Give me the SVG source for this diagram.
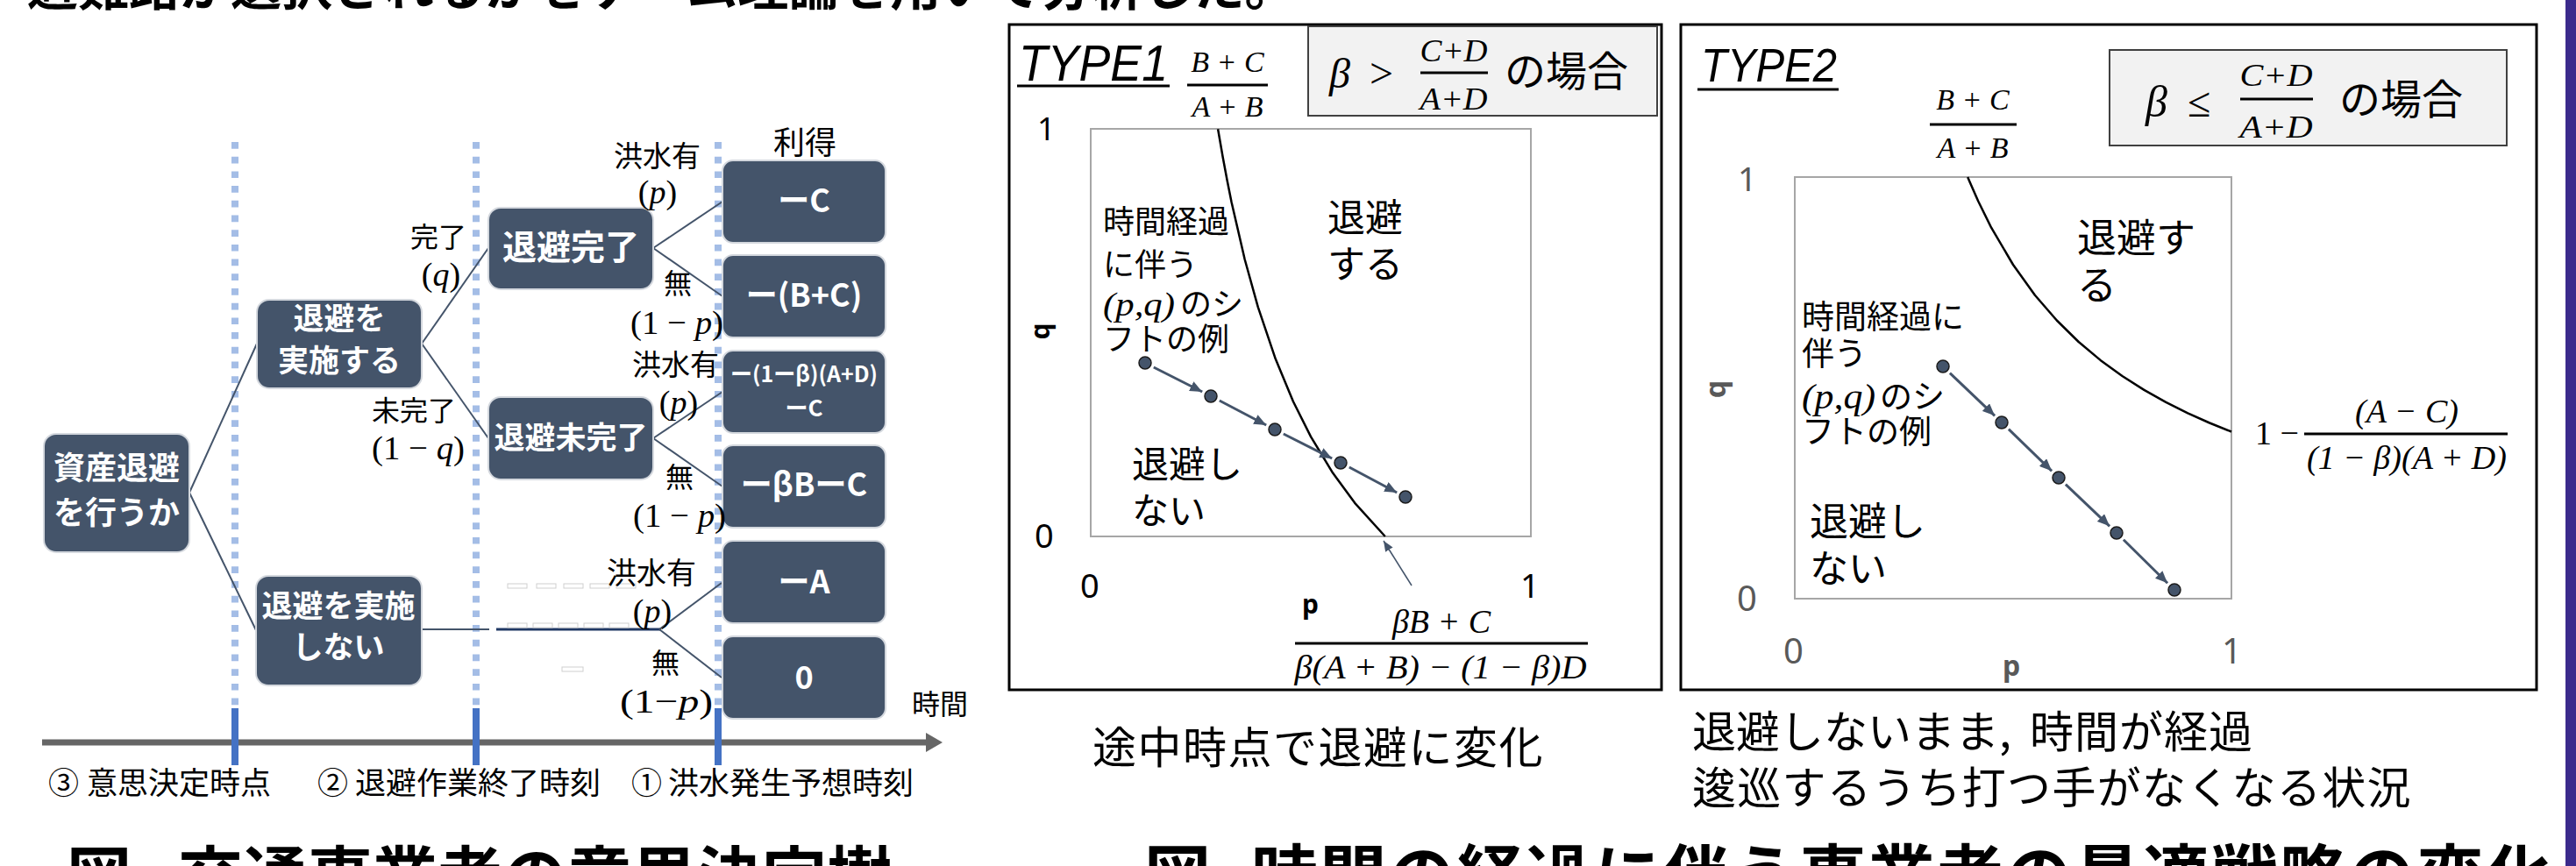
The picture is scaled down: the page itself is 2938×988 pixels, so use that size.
<svg xmlns="http://www.w3.org/2000/svg" width="2938" height="988" viewBox="0 0 2938 988">
<defs>
<style>
.jp{font-family:"Noto Sans CJK JP","Noto Sans CJK SC",sans-serif;fill:#000}
.jpb{font-family:"Noto Sans CJK JP","Noto Sans CJK SC",sans-serif;font-weight:bold}
.box{fill:#44546a;stroke:#d4d8de;stroke-width:2}
.bt{font-family:"Noto Sans CJK JP","Noto Sans CJK SC",sans-serif;font-weight:bold;fill:#fff;text-anchor:middle}
.m{font-family:"Liberation Serif","DejaVu Serif",serif;fill:#000}
.mi{font-family:"Liberation Serif","DejaVu Serif",serif;font-style:italic;fill:#000}
.num{font-family:"Noto Sans","Open Sans",sans-serif}
.con{stroke:#44546a;stroke-width:2;fill:none}
.dot{stroke:#a4bde6;stroke-width:8;stroke-dasharray:7.7 9}
.tick{stroke:#4472c4;stroke-width:8}
.frame{fill:#fff;stroke:#000;stroke-width:3}
.gbox{fill:#f2f2f2;stroke:#404040;stroke-width:2}
.plot{fill:#fff;stroke:#a6a6a6;stroke-width:2}
.curve{fill:none;stroke:#000;stroke-width:2.5;stroke-linejoin:round}
.pt{fill:#44546a;stroke:#1a1a1a;stroke-width:1.5}
.arr{stroke:#44546a;stroke-width:3;fill:none}
.bar{stroke:#000;stroke-width:3}
.art{fill:#fff;stroke:#cfcfcf;stroke-width:1}
</style>
<marker id="ah" markerUnits="userSpaceOnUse" markerWidth="14" markerHeight="12" refX="14" refY="6" orient="auto">
<path d="M0,0 L14,6 L0,12 z" fill="#44546a"/>
</marker>
<marker id="ah2" markerUnits="userSpaceOnUse" markerWidth="12" markerHeight="10" refX="12" refY="5" orient="auto">
<path d="M0,0 L12,5 L0,10 z" fill="#44546a"/>
</marker>
</defs>
<rect width="2938" height="988" fill="#fff"/>

<g id="titles">
<text class="jpb" x="31" y="6" font-size="58">避難路が選択されるかをゲーム理論を用いて分析した。</text>
<text class="jpb" x="76" y="1027" font-size="74">図</text>
<text class="jpb" x="203" y="1027" font-size="74">交通事業者の意思決定樹</text>
<text class="jpb" x="1305" y="1027" font-size="76">図</text>
<text class="jpb" x="1427" y="1027" font-size="76" letter-spacing="2.2">時間の経過に伴う事業者の最適戦略の変化</text>
</g>
<rect id="sidebar" x="2926" y="0" width="12" height="988" fill="#3b2a8c"/>

<g id="timeline">
<line class="dot" x1="268" y1="162" x2="268" y2="808"/>
<line class="dot" x1="543" y1="162" x2="543" y2="808"/>
<line class="dot" x1="819" y1="162" x2="819" y2="808"/>
<line x1="48" y1="847" x2="1058" y2="847" stroke="#666" stroke-width="7"/>
<polygon points="1056,836 1075,847 1056,858" fill="#666"/>
<line class="tick" x1="268" y1="808" x2="268" y2="873"/>
<line class="tick" x1="543" y1="808" x2="543" y2="873"/>
<line class="tick" x1="819" y1="808" x2="819" y2="873"/>
<text class="jp" x="1040" y="815" font-size="32">時間</text>
<text class="jp" x="55" y="906" font-size="35">③</text>
<text class="jp" x="99" y="906" font-size="35">意思決定時点</text>
<text class="jp" x="362" y="906" font-size="35">②</text>
<text class="jp" x="405" y="906" font-size="35">退避作業終了時刻</text>
<text class="jp" x="720" y="906" font-size="35">①</text>
<text class="jp" x="762" y="906" font-size="35">洪水発生予想時刻</text>
</g>

<g id="connectors">
<line class="con" x1="216" y1="562" x2="293" y2="392"/>
<line class="con" x1="216" y1="562" x2="292" y2="719"/>
<line class="con" x1="481" y1="392" x2="557" y2="283"/>
<line class="con" x1="481" y1="392" x2="557" y2="500"/>
<line class="con" x1="745" y1="283" x2="824" y2="230"/>
<line class="con" x1="745" y1="283" x2="824" y2="338"/>
<line class="con" x1="745" y1="500" x2="824" y2="447"/>
<line class="con" x1="745" y1="500" x2="824" y2="555"/>
<line class="con" x1="481" y1="718" x2="558" y2="718"/>
<line x1="566" y1="718" x2="754" y2="718" stroke="#203864" stroke-width="3"/>
<line class="con" x1="752" y1="718" x2="823" y2="665"/>
<line class="con" x1="752" y1="718" x2="823" y2="773"/>
</g>

<g id="artifacts">
<rect class="art" x="579" y="666" width="22" height="5"/>
<rect class="art" x="612" y="666" width="22" height="5"/>
<rect class="art" x="643" y="666" width="22" height="5"/>
<rect class="art" x="673" y="666" width="22" height="5"/>
<rect class="art" x="703" y="666" width="22" height="5"/>
<rect class="art" x="579" y="711" width="22" height="5"/>
<rect class="art" x="608" y="711" width="22" height="5"/>
<rect class="art" x="637" y="711" width="22" height="5"/>
<rect class="art" x="666" y="711" width="22" height="5"/>
<rect class="art" x="695" y="711" width="22" height="5"/>
<rect class="art" x="641" y="761" width="24" height="5"/>
</g>

<g id="n-root"><rect class="box" x="50" y="495" width="166" height="135" rx="14"/>
<text class="bt" x="133" y="547" font-size="36">資産退避</text><text class="bt" x="133" y="598" font-size="36">を行うか</text></g>
<g id="n-do"><rect class="box" x="293" y="342" width="188" height="101" rx="14"/>
<text class="bt" x="387" y="376" font-size="35">退避を</text><text class="bt" x="387" y="424" font-size="35">実施する</text></g>
<g id="n-done"><rect class="box" x="557" y="237" width="188" height="93" rx="14"/>
<text class="bt" x="651" y="296" font-size="39">退避完了</text></g>
<g id="n-notdone"><rect class="box" x="557" y="453" width="188" height="94" rx="14"/>
<text class="bt" x="651" y="512" font-size="35">退避未完了</text></g>
<g id="n-dont"><rect class="box" x="292" y="657" width="189" height="125" rx="14"/>
<text class="bt" x="386" y="704" font-size="35">退避を実施</text><text class="bt" x="386" y="751" font-size="35">しない</text></g>

<g id="p1"><rect class="box" x="824" y="183" width="186" height="94" rx="12"/><text class="bt" x="917" y="242" font-size="36">ーC</text></g>
<g id="p2"><rect class="box" x="824" y="291" width="186" height="94" rx="12"/><text class="bt" x="917" y="350" font-size="36">ー(B+C)</text></g>
<g id="p3"><rect class="box" x="824" y="400" width="186" height="94" rx="12"/><text class="bt" x="917" y="436" font-size="25">ー(1ーβ)(A+D)</text><text class="bt" x="917" y="475" font-size="26">ーC</text></g>
<g id="p4"><rect class="box" x="824" y="508" width="186" height="94" rx="12"/><text class="bt" x="917" y="566" font-size="36">ーβBーC</text></g>
<g id="p5"><rect class="box" x="824" y="617" width="186" height="94" rx="12"/><text class="bt" x="917" y="677" font-size="36">ーA</text></g>
<g id="p6"><rect class="box" x="824" y="726" width="186" height="94" rx="12"/><text class="bt" x="917" y="786" font-size="36">0</text></g>

<g id="tree-labels">
<text class="jp" x="882" y="176" font-size="36">利得</text>
<text class="jp" x="468" y="282" font-size="32">完了</text>
<text class="m" x="503" y="326" font-size="38" text-anchor="middle">(<tspan font-style="italic">q</tspan>)</text>
<text class="jp" x="424" y="480" font-size="32">未完了</text>
<text class="m" x="477" y="524" font-size="38" text-anchor="middle" textLength="106" lengthAdjust="spacingAndGlyphs">(1 − <tspan font-style="italic">q</tspan>)</text>
<text class="jp" x="700" y="190" font-size="33">洪水有</text>
<text class="m" x="750" y="232" font-size="38" text-anchor="middle">(<tspan font-style="italic">p</tspan>)</text>
<text class="jp" x="757" y="335" font-size="32">無</text>
<text class="m" x="772" y="381" font-size="38" text-anchor="middle" textLength="106" lengthAdjust="spacingAndGlyphs">(1 − <tspan font-style="italic">p</tspan>)</text>
<text class="jp" x="721" y="428" font-size="33">洪水有</text>
<text class="m" x="774" y="472" font-size="38" text-anchor="middle">(<tspan font-style="italic">p</tspan>)</text>
<text class="jp" x="759" y="556" font-size="32">無</text>
<text class="m" x="775" y="601" font-size="38" text-anchor="middle" textLength="106" lengthAdjust="spacingAndGlyphs">(1 − <tspan font-style="italic">p</tspan>)</text>
<text class="jp" x="692" y="666" font-size="34">洪水有</text>
<text class="m" x="744" y="710" font-size="38" text-anchor="middle">(<tspan font-style="italic">p</tspan>)</text>
<text class="jp" x="743" y="768" font-size="32">無</text>
<text class="m" x="760" y="813" font-size="38" text-anchor="middle" textLength="106" lengthAdjust="spacingAndGlyphs">(1−<tspan font-style="italic">p</tspan>)</text>
</g>

<g id="type1">
<rect class="frame" x="1151" y="28" width="744" height="759"/>
<rect class="gbox" x="1492" y="30" width="398" height="102"/>
<text class="mi" x="1516" y="100" font-size="48">β</text>
<text class="m" x="1562" y="100" font-size="48">&gt;</text>
<text class="mi" x="1658" y="70" font-size="36" text-anchor="middle" textLength="77" lengthAdjust="spacingAndGlyphs">C+D</text>
<line class="bar" x1="1620" y1="83" x2="1697" y2="83"/>
<text class="mi" x="1658" y="125" font-size="36" text-anchor="middle" textLength="77" lengthAdjust="spacingAndGlyphs">A+D</text>
<text class="jp" x="1716" y="98" font-size="47">の場合</text>
<text x="1162" y="92" font-size="58" font-style="italic" font-family="Liberation Sans, sans-serif" textLength="170" lengthAdjust="spacingAndGlyphs">TYPE1</text>
<line class="bar" x1="1160" y1="98" x2="1334" y2="98"/>
<text class="mi" x="1400" y="82" font-size="34" text-anchor="middle">B + C</text>
<line class="bar" x1="1354" y1="97" x2="1446" y2="97"/>
<text class="mi" x="1400" y="133" font-size="34" text-anchor="middle">A + B</text>
<text class="num" x="1183" y="160" font-size="36">1</text>
<rect class="plot" x="1244" y="147" width="502" height="465"/>
<text class="num" x="1185" y="378" font-size="30" font-weight="bold" text-anchor="middle" dominant-baseline="central" transform="rotate(-90 1185 378)">q</text>
<text class="num" x="1180" y="625" font-size="38">0</text>
<text class="num" x="1232" y="682" font-size="38">0</text>
<text class="num" x="1734" y="682" font-size="38">1</text>
<text class="num" x="1485" y="700" font-size="30" font-weight="bold">p</text>
<polyline class="curve" points="1389.1,147.2 1394.6,179 1399.6,205.7 1404.6,230.7 1419.7,296 1434.8,350.3 1454.8,409.6 1474.9,458 1495,498.1 1520.1,539.6 1545.2,573.8 1579.8,612"/>
<text class="jp" x="1514" y="264" font-size="43">退避</text>
<text class="jp" x="1514" y="317" font-size="43">する</text>
<text class="jp" x="1258" y="266" font-size="36">時間経過</text>
<text class="jp" x="1258" y="315" font-size="36">に伴う</text>
<text class="mi" x="1258" y="360" font-size="38" textLength="82" lengthAdjust="spacingAndGlyphs">(p,q)</text>
<text class="jp" x="1346" y="360" font-size="36">のシ</text>
<text class="jp" x="1258" y="400" font-size="36">フトの例</text>
<text class="jp" x="1291" y="545" font-size="42">退避し</text>
<text class="jp" x="1291" y="598" font-size="42">ない</text>
<line class="arr" x1="1315.8" y1="419" x2="1371.2" y2="447" marker-end="url(#ah)"/>
<line class="arr" x1="1390.8" y1="457" x2="1444.2" y2="485" marker-end="url(#ah)"/>
<line class="arr" x1="1463.8" y1="495" x2="1519.2" y2="523" marker-end="url(#ah)"/>
<line class="arr" x1="1538.8" y1="533" x2="1593.2" y2="562" marker-end="url(#ah)"/>
<circle class="pt" cx="1306" cy="414" r="7"/>
<circle class="pt" cx="1381" cy="452" r="7"/>
<circle class="pt" cx="1454" cy="490" r="7"/>
<circle class="pt" cx="1529" cy="528" r="7"/>
<circle class="pt" cx="1603" cy="567" r="7"/>
<line x1="1610" y1="668" x2="1578" y2="617" stroke="#44546a" stroke-width="1.5" marker-end="url(#ah2)"/>
<text class="mi" x="1644" y="722" font-size="38" text-anchor="middle">βB + C</text>
<line class="bar" x1="1477" y1="734" x2="1811" y2="734"/>
<text class="mi" x="1643" y="774" font-size="38" text-anchor="middle" textLength="333" lengthAdjust="spacingAndGlyphs">β(A + B) − (1 − β)D</text>
</g>

<g id="type2">
<rect class="frame" x="1917" y="28" width="976" height="759"/>
<rect class="gbox" x="2406" y="57" width="453" height="109"/>
<text class="mi" x="2447" y="133" font-size="50">β</text>
<text class="m" x="2495" y="133" font-size="48">≤</text>
<text class="mi" x="2596" y="98" font-size="36" text-anchor="middle" textLength="83" lengthAdjust="spacingAndGlyphs">C+D</text>
<line class="bar" x1="2555" y1="113" x2="2638" y2="113"/>
<text class="mi" x="2596" y="157" font-size="36" text-anchor="middle" textLength="83" lengthAdjust="spacingAndGlyphs">A+D</text>
<text class="jp" x="2668" y="130" font-size="47">の場合</text>
<text x="1940" y="93" font-size="54" font-style="italic" font-family="Liberation Sans, sans-serif" textLength="155" lengthAdjust="spacingAndGlyphs">TYPE2</text>
<line class="bar" x1="1936" y1="102" x2="2097" y2="102"/>
<text class="mi" x="2250" y="125" font-size="34" text-anchor="middle">B + C</text>
<line class="bar" x1="2201" y1="142" x2="2300" y2="142"/>
<text class="mi" x="2250" y="180" font-size="34" text-anchor="middle">A + B</text>
<text class="num" x="1982" y="218" font-size="38" fill="#595959">1</text>
<rect class="plot" x="2047" y="202" width="498" height="481"/>
<text class="num" x="1955" y="444" font-size="32" font-weight="bold" fill="#595959" text-anchor="middle" dominant-baseline="central" transform="rotate(-90 1955 444)">q</text>
<text class="num" x="1981" y="697" font-size="40" fill="#595959">0</text>
<text class="num" x="2034" y="757" font-size="40" fill="#595959">0</text>
<text class="num" x="2534" y="757" font-size="40" fill="#595959">1</text>
<text class="num" x="2284" y="771" font-size="32" font-weight="bold" fill="#595959">p</text>
<polyline class="curve" points="2244.2,202 2246.2,206.8 2256.2,229.5 2271.1,259.7 2296,302 2320.9,336.7 2345.8,365.5 2370.7,390 2395.6,410.9 2420.5,429 2445.4,444.9 2470.3,458.9 2495.2,471.4 2520.1,482.5 2545,492.5"/>
<text class="jp" x="2369" y="288" font-size="45">退避す</text>
<text class="jp" x="2369" y="342" font-size="45">る</text>
<text class="jp" x="2055" y="375" font-size="37">時間経過に</text>
<text class="jp" x="2055" y="417" font-size="37">伴う</text>
<text class="mi" x="2055" y="466" font-size="39" textLength="84" lengthAdjust="spacingAndGlyphs">(p,q)</text>
<text class="jp" x="2144" y="466" font-size="37">のシ</text>
<text class="jp" x="2055" y="506" font-size="37">フトの例</text>
<text class="jp" x="2064" y="611" font-size="44">退避し</text>
<text class="jp" x="2064" y="665" font-size="44">ない</text>
<line class="arr" x1="2223.9" y1="425.7" x2="2275.1" y2="474.3" marker-end="url(#ah)"/>
<line class="arr" x1="2290.9" y1="489.7" x2="2340.1" y2="537.3" marker-end="url(#ah)"/>
<line class="arr" x1="2355.9" y1="552.7" x2="2406.1" y2="600.3" marker-end="url(#ah)"/>
<line class="arr" x1="2421.9" y1="615.7" x2="2472.1" y2="665.3" marker-end="url(#ah)"/>
<circle class="pt" cx="2216" cy="418" r="7"/>
<circle class="pt" cx="2283" cy="482" r="7"/>
<circle class="pt" cx="2348" cy="545" r="7"/>
<circle class="pt" cx="2414" cy="608" r="7"/>
<circle class="pt" cx="2480" cy="673" r="7"/>
<text class="m" x="2572" y="507" font-size="38">1 −</text>
<text class="mi" x="2745" y="482" font-size="38" text-anchor="middle">(A − C)</text>
<line class="bar" x1="2628" y1="495" x2="2860" y2="495"/>
<text class="mi" x="2745" y="535" font-size="38" text-anchor="middle" textLength="228" lengthAdjust="spacingAndGlyphs">(1 − β)(A + D)</text>
</g>

<g id="captions">
<text class="jp" x="1246" y="871" font-size="50" letter-spacing="1.5">途中時点で退避に変化</text>
<text class="jp" x="1930" y="853" font-size="50">退避しないまま,</text>
<text class="jp" x="2315" y="853" font-size="50" letter-spacing="1">時間が経過</text>
<text class="jp" x="1930" y="917" font-size="50" letter-spacing="1.3">逡巡するうち打つ手がなくなる状況</text>
</g>
</svg>
